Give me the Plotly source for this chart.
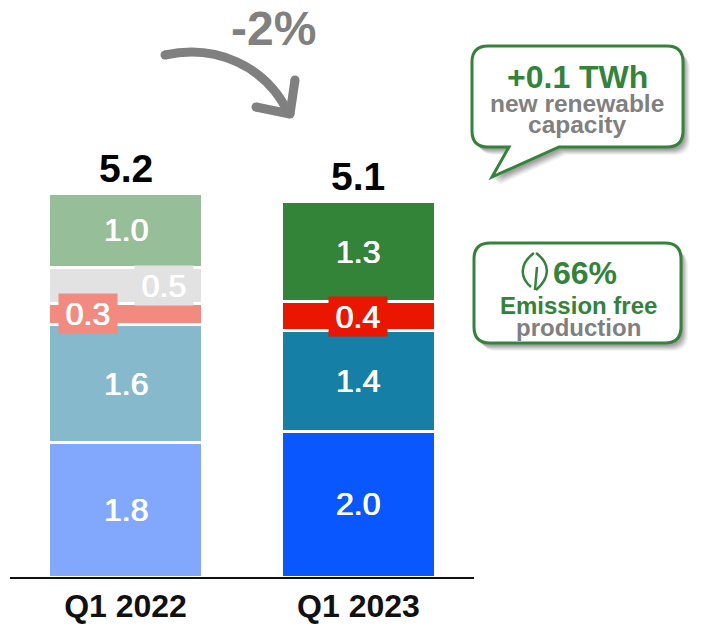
import plotly.graph_objects as go

quarters = ["Q1 2022", "Q1 2023"]
totals = [5.2, 5.1]

# segment heights, labels are the printed numbers
seg_blue = [1.84, 2.0]
seg_teal = [1.62, 1.38]
seg_red = [0.29, 0.39]
seg_gray = [0.49, None]
seg_green = [1.02, 1.37]

labels_blue = ["1.8", "2.0"]
labels_teal = ["1.6", "1.4"]
labels_red = ["0.3", "0.4"]
labels_gray = ["0.5", None]
labels_green = ["1.0", "1.3"]

colors_blue = ["#81A8FD", "#0957FF"]
colors_teal = ["#86B9CC", "#167FA6"]
colors_red = ["#F38A80", "#EA1600"]
colors_gray = ["#E2E2E2", "#E2E2E2"]
colors_green = ["#96BE98", "#338338"]

W, H = 709, 626
FONT = "Liberation Sans"
GREEN = "#33833A"
GREY = "#808080"


# pixel helpers for the callouts and the arrow
def px(x):
    return x / W


def py(y):
    return 1 - y / H


def pt(x, y):
    return f"{px(x):.5f},{py(y):.5f}"


def bubble_path(x0, y0, x1, y1, r, tail=None):
    p = f"M {pt(x0 + r, y0)} L {pt(x1 - r, y0)} Q {pt(x1, y0)} {pt(x1, y0 + r)} "
    p += f"L {pt(x1, y1 - r)} Q {pt(x1, y1)} {pt(x1 - r, y1)} "
    if tail:
        for tx, ty in tail:
            p += f"L {pt(tx, ty)} "
    p += f"L {pt(x0 + r, y1)} Q {pt(x0, y1)} {pt(x0, y1 - r)} "
    p += f"L {pt(x0, y0 + r)} Q {pt(x0, y0)} {pt(x0 + r, y0)} Z"
    return p


def add_bubble(fig, x0, y0, x1, y1, r, tail=None):
    # soft shadow made of a few see-through layers
    for off, op in [(8, 0.07), (7, 0.09), (6, 0.11), (5, 0.13), (4, 0.15), (3, 0.17)]:
        shifted = [(a + off - 1, b + off) for a, b in tail] if tail else None
        fig.add_shape(type="path", xref="paper", yref="paper",
                      path=bubble_path(x0 + off - 1, y0 + off, x1 + off - 1, y1 + off, r, shifted),
                      fillcolor="#555555", opacity=op, line_width=0)
    fig.add_shape(type="path", xref="paper", yref="paper",
                  path=bubble_path(x0, y0, x1, y1, r, tail),
                  fillcolor="white", line=dict(color=GREEN, width=3))


def add_text(fig, x, y, text, size, color, bold=True):
    fig.add_annotation(xref="paper", yref="paper", x=px(x), y=py(y), text=f"<b>{text}</b>" if bold else text,
                       showarrow=False, xanchor="center", yanchor="middle",
                       font=dict(family=FONT, size=size, color=color))


fig = go.Figure()

stack = [
    (seg_blue, colors_blue, labels_blue),
    (seg_teal, colors_teal, labels_teal),
    (seg_red, colors_red, labels_red),
    (seg_gray, colors_gray, labels_gray),
    (seg_green, colors_green, labels_green),
]

for vals, cols, _ in stack:
    fig.add_trace(go.Bar(x=quarters, y=vals, marker=dict(color=cols, line=dict(color="white", width=3)),
                         showlegend=False))

fig.update_layout(
    width=W, height=H, margin=dict(l=0, r=0, t=0, b=0),
    barmode="stack", bargap=0.34,
    paper_bgcolor="white", plot_bgcolor="white",
    font=dict(family=FONT),
    xaxis=dict(domain=[10 / W, 474 / W], range=[-0.496, 1.496], showgrid=False, automargin=False,
               showline=True, linecolor="#111111", linewidth=2, ticks="",
               tickfont=dict(family=FONT, size=32, color="#111111"),
               tickprefix="<b>", ticksuffix="</b>"),
    yaxis=dict(domain=[1 - 577 / H, 1], range=[0, 577 / 73], visible=False),
)

# segment labels sit at the middle of each segment, the thin ones carry a box
shifts = {"0.3": -38, "0.5": 38}
for i, q in enumerate(quarters):
    base = 0
    for vals, cols, labs in stack:
        v = vals[i]
        if v is None:
            continue
        lab = labs[i]
        thin = v < 0.6
        fig.add_annotation(x=q, y=base + v / 2, text=lab, showarrow=False,
                           xshift=shifts.get(lab, 0),
                           width=56 if thin else None, height=37 if thin else None,
                           bgcolor=cols[i] if thin else None,
                           font=dict(family=FONT, size=32, color="white",
                                     shadow="0.5px 0 0 white, -0.5px 0 0 white"))
        base += v
    fig.add_annotation(x=q, y=totals[i], text=f"<b>{totals[i]}</b>", showarrow=False,
                       yanchor="bottom", yshift=5,
                       font=dict(family=FONT, size=39, color="black"))

# curved arrow
fig.add_shape(type="path", xref="paper", yref="paper",
              path=f"M {pt(165, 55)} C {pt(215, 44)} {pt(265, 65)} {pt(288, 112)}",
              line=dict(color=GREY, width=9))
fig.add_shape(type="path", xref="paper", yref="paper",
              path=f"M {pt(295, 80)} L {pt(290, 114)}",
              line=dict(color=GREY, width=9))
fig.add_shape(type="path", xref="paper", yref="paper",
              path=f"M {pt(290, 114)} L {pt(256, 107)}",
              line=dict(color=GREY, width=9))
for cx, cy in [(165, 55), (295, 80), (290, 114), (256, 107)]:
    fig.add_shape(type="circle", xref="paper", yref="paper",
                  x0=px(cx - 4.5), x1=px(cx + 4.5), y0=py(cy + 4.5), y1=py(cy - 4.5),
                  fillcolor=GREY, line_width=0)
add_text(fig, 273, 29, "-2%", 48, GREY)

# renewable callout
add_bubble(fig, 472, 46, 683, 147, 16, tail=[(559, 147), (492, 177), (509, 147)])
add_text(fig, 577, 77, "+0.1 TWh", 32, GREEN)
add_text(fig, 577, 104, "new renewable", 24.5, GREY)
add_text(fig, 577, 125, "capacity", 24.5, GREY)

# emission free callout
add_bubble(fig, 474, 243, 681, 343, 16)
add_text(fig, 585, 273, "66%", 32, GREEN)
add_text(fig, 578, 305, "Emission free", 24, GREEN)
add_text(fig, 578, 327, "production", 24, GREY)

# leaf icon
fig.add_shape(type="path", xref="paper", yref="paper",
              path=f"M {pt(534, 253)} C {pt(519, 264)} {pt(520, 278)} {pt(531, 287)}",
              line=dict(color=GREEN, width=2.5))
fig.add_shape(type="path", xref="paper", yref="paper",
              path=f"M {pt(536, 253)} C {pt(551, 264)} {pt(550, 278)} {pt(536, 290)}",
              line=dict(color=GREEN, width=2.5))
fig.add_shape(type="path", xref="paper", yref="paper",
              path=f"M {pt(537, 267)} L {pt(535, 290)}",
              line=dict(color=GREEN, width=2.5))

fig.write_html("out.html", config=dict(displayModeBar=False),
               post_script="document.body.style.margin='0';")
